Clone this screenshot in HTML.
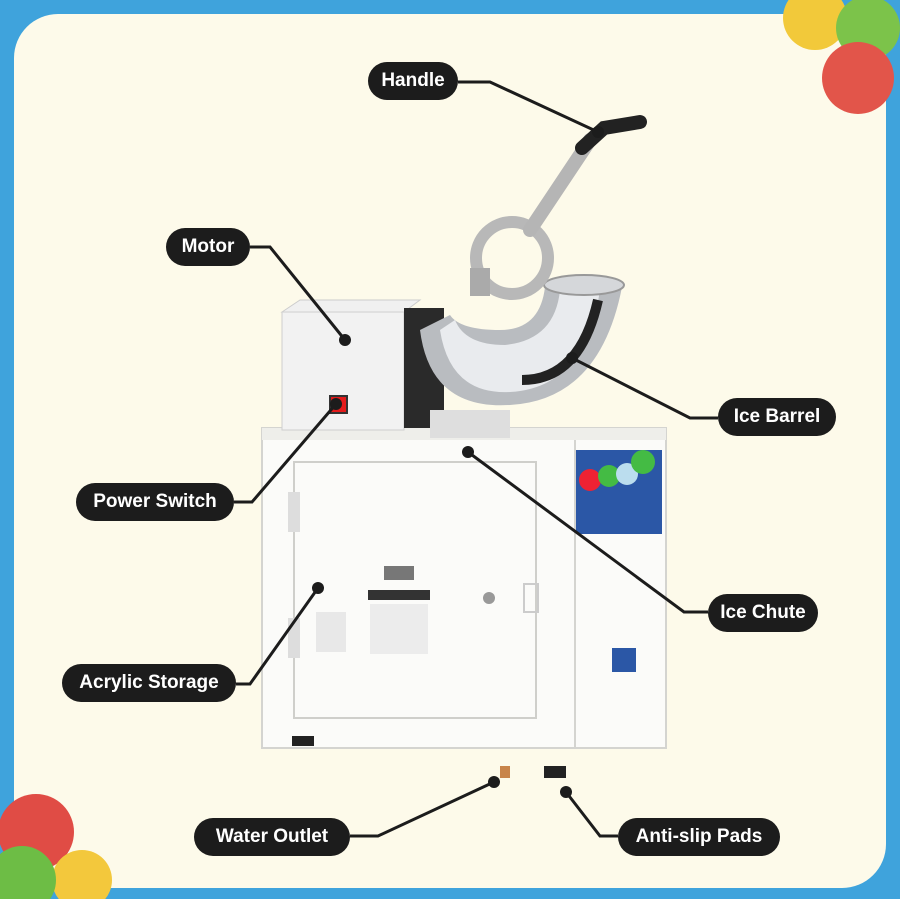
<!DOCTYPE html>
<html><head><meta charset="utf-8"><style>
html,body{margin:0;padding:0}
body{width:900px;height:899px;background:#3fa3dc;position:relative;overflow:hidden;font-family:"Liberation Sans",sans-serif}
.panel{position:absolute;left:14px;top:14px;width:872px;height:874px;background:#fdfaea;border-radius:44px}
.pill{position:absolute;height:38px;line-height:38px;background:#1c1c1c;color:#fff;font-weight:bold;font-size:19px;border-radius:19px;text-align:center;white-space:nowrap}
svg{position:absolute;left:0;top:0}
</style></head><body>
<div class="panel"></div>
<svg width="900" height="899">
<!-- decorative balls -->
<circle cx="815" cy="18" r="32" fill="#f2c93a"/>
<circle cx="868" cy="28" r="32" fill="#7cc34a"/>
<circle cx="858" cy="78" r="36" fill="#e2554a"/>
<circle cx="36" cy="832" r="38" fill="#e04c45"/>
<circle cx="82" cy="880" r="30" fill="#f3c83c"/>
<circle cx="22" cy="880" r="34" fill="#6dbd45"/>
<!-- acrylic box -->
<rect x="262" y="428" width="404" height="320" fill="#fbfbf9" stroke="#d4d4d0" stroke-width="2"/>
<rect x="262" y="428" width="404" height="12" fill="#eeeeea"/>
<line x1="575" y1="440" x2="575" y2="748" stroke="#d4d4d0" stroke-width="2"/>
<rect x="294" y="462" width="242" height="256" fill="none" stroke="#cfcfcb" stroke-width="2"/>
<rect x="288" y="492" width="12" height="40" fill="#ddd"/>
<rect x="288" y="618" width="12" height="40" fill="#ddd"/>
<rect x="316" y="612" width="30" height="40" fill="#e8e8e8"/>
<rect x="368" y="590" width="62" height="10" fill="#333"/>
<rect x="370" y="604" width="58" height="50" fill="#ececec"/>
<rect x="384" y="566" width="30" height="14" fill="#777"/>
<circle cx="489" cy="598" r="6" fill="#999"/>
<rect x="524" y="584" width="14" height="28" fill="none" stroke="#ccc" stroke-width="2"/>
<rect x="576" y="450" width="86" height="84" fill="#2b57a6"/>
<circle cx="590" cy="480" r="11" fill="#e23"/>
<circle cx="609" cy="476" r="11" fill="#4b4"/>
<circle cx="627" cy="474" r="11" fill="#bde"/>
<circle cx="643" cy="462" r="12" fill="#4b4"/>
<rect x="612" y="648" width="24" height="24" fill="#2b57a6"/>
<rect x="292" y="736" width="22" height="10" fill="#222"/>
<rect x="544" y="766" width="22" height="12" fill="#222"/>
<rect x="500" y="766" width="10" height="12" fill="#c8844a"/>
<!-- motor box -->
<polygon points="282,312 300,300 420,300 404,312" fill="#f0f0f0" stroke="#ccc"/>
<rect x="282" y="312" width="122" height="118" fill="#f2f2f2" stroke="#cfcfcf"/>
<rect x="330" y="396" width="17" height="17" fill="#e41b1b" stroke="#333" stroke-width="2"/>
<!-- chrome head -->
<rect x="404" y="308" width="40" height="120" fill="#2a2a2a"/>
<rect x="430" y="410" width="80" height="28" fill="#dedede"/>
<path d="M420,330 Q430,410 510,405 Q600,400 622,287 L545,287 Q540,330 500,330 Q460,330 450,315 Z" fill="#b9bcc0"/>
<path d="M440,330 Q450,395 510,392 Q585,388 600,290 L560,290 Q555,340 505,345 Q465,345 455,320 Z" fill="#e9ebee"/>
<path d="M522,380 Q580,380 598,300" stroke="#222" stroke-width="10" fill="none"/>
<ellipse cx="584" cy="285" rx="40" ry="10" fill="#d5d7da" stroke="#999" stroke-width="2"/>
<circle cx="512" cy="258" r="36" fill="none" stroke="#b8b8b8" stroke-width="12"/>
<path d="M530,230 L590,140" stroke="#b5b5b5" stroke-width="14" stroke-linecap="round"/>
<path d="M582,148 L604,128 L640,122" stroke="#222" stroke-width="14" stroke-linecap="round" fill="none"/>
<rect x="470" y="268" width="20" height="28" fill="#aaa"/>
<!-- connectors -->
<g stroke="#1c1c1c" stroke-width="3" fill="none">
<polyline points="458,82 490,82 598,132"/>
<polyline points="250,247 270,247 345,340"/>
<polyline points="718,418 690,418 572,358"/>
<polyline points="234,502 252,502 336,404"/>
<polyline points="708,612 684,612 468,452"/>
<polyline points="236,684 250,684 318,588"/>
<polyline points="350,836 378,836 494,782"/>
<polyline points="618,836 600,836 566,792"/>
</g>
<g fill="#1c1c1c">
<circle cx="598" cy="132" r="6"/><circle cx="345" cy="340" r="6"/>
<circle cx="572" cy="358" r="6"/><circle cx="336" cy="404" r="6"/>
<circle cx="468" cy="452" r="6"/><circle cx="318" cy="588" r="6"/>
<circle cx="494" cy="782" r="6"/><circle cx="566" cy="792" r="6"/>
</g>
</svg>
<div class="pill" style="left:368px;top:62px;width:90px">Handle</div>
<div class="pill" style="left:166px;top:228px;width:84px">Motor</div>
<div class="pill" style="left:718px;top:398px;width:118px">Ice Barrel</div>
<div class="pill" style="left:76px;top:483px;width:158px">Power Switch</div>
<div class="pill" style="left:708px;top:594px;width:110px">Ice Chute</div>
<div class="pill" style="left:62px;top:664px;width:174px">Acrylic Storage</div>
<div class="pill" style="left:194px;top:818px;width:156px">Water Outlet</div>
<div class="pill" style="left:618px;top:818px;width:162px">Anti-slip Pads</div>
</body></html>
